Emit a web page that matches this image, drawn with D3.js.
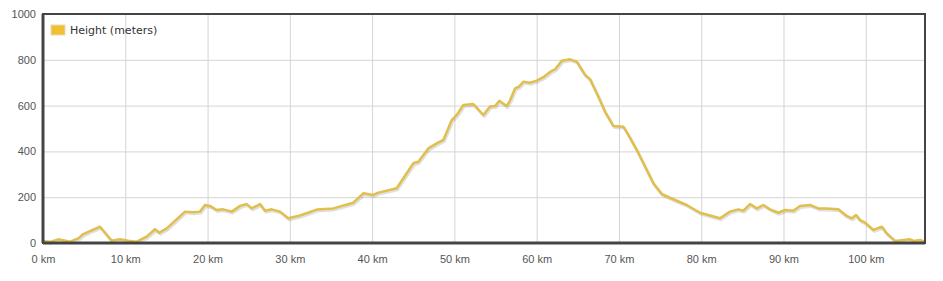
<!DOCTYPE html>
<html>
<head>
<meta charset="utf-8">
<script src="https://cdn.jsdelivr.net/npm/d3@7"></script>
<style>
  body { margin: 0; background: #fff; }
  svg { display: block; font-family: "DejaVu Sans", Verdana, sans-serif; }
  .tick text { fill: #555; font-size: 11px; }
</style>
</head>
<body>
<div id="chart"></div>
<script>
"use strict";

// distance along the route (km) and height (m)
const distanceKm = [
  0, 0.85, 1.86, 3.28, 4.29, 4.9, 5.51, 6.93, 8.35, 9.36, 10.37, 11.39,
  12.6, 13.61, 14.14, 15.04, 17.26, 18.27, 19.08, 19.69, 20.3, 21.11,
  21.92, 22.94, 23.95, 24.76, 25.37, 26.38, 26.98, 27.8, 28.81, 29.82,
  31.24, 33.27, 35.29, 37.72, 38.93, 40.15, 40.76, 42.99, 45.01, 45.62,
  46.83, 47.85, 48.66, 49.68, 50.29, 51.09, 52.3, 53.52, 54.33, 54.94,
  55.46, 56.34, 56.76, 57.37, 57.86, 58.38, 59.2, 60.01, 60.81, 61.83,
  62.23, 63.05, 64.06, 64.87, 65.88, 66.49, 67.5, 68.31, 69.32, 70.54,
  71.15, 72.17, 73.18, 74.18, 75.2, 76.61, 78.24, 79.86, 82.29, 83.5,
  84.51, 85.12, 85.94, 86.75, 87.55, 88.37, 89.38, 90.19, 91.2, 92.01,
  93.23, 94.24, 95.26, 96.67, 97.69, 98.3, 98.82, 99.31, 99.92, 100.92,
  101.95, 102.55, 103.56, 105.39, 105.8, 106.62, 107.09
];
const heightM = [
  8, 5, 16, 6, 20, 39, 49, 71, 10, 16, 10, 6,
  28, 60, 45, 64, 137, 134, 137, 166, 162, 144,
  147, 137, 162, 170, 151, 170, 141, 147, 137, 108,
  120, 146, 151, 176, 217, 210, 220, 239, 348, 355,
  413, 435, 450, 537, 559, 603, 607, 559, 596, 598,
  621, 598, 622, 675, 683, 704, 700, 709, 724, 752,
  758, 796, 802, 792, 734, 715, 639, 573, 511, 508,
  472, 406, 333, 261, 214, 191, 166, 132, 108, 137,
  147, 141, 170, 151, 166, 147, 132, 144, 141, 162,
  166, 151, 151, 147, 118, 108, 122, 100, 89, 57,
  71, 42, 9, 16, 9, 13, 6
];
const yTicks = [0, 200, 400, 600, 800, 1000];
const xTicks = [0, 10, 20, 30, 40, 50, 60, 70, 80, 90, 100];
const seriesName = "Height (meters)";

const W = 943, H = 281;
const margin = { top: 14, right: 18, bottom: 38, left: 43 };
const width = W - margin.left - margin.right,
  height = H - margin.top - margin.bottom;

const data = distanceKm.map((d, i) => ({ km: d, h: heightM[i] }));

const x = d3.scaleLinear().domain([0, 107.2]).range([0, width]);
const y = d3.scaleLinear().domain([0, 1000]).range([height, 0]);

const svg = d3
  .select("#chart")
  .append("svg")
  .attr("width", W)
  .attr("height", H);

const g = svg
  .append("g")
  .attr("transform", "translate(" + margin.left + "," + margin.top + ")");

// grid
g.append("g")
  .call(d3.axisLeft(y).tickValues(yTicks).tickSize(-width).tickFormat(""))
  .call((s) => s.select(".domain").remove())
  .call((s) => s.selectAll("line").attr("stroke", "#d4d4d4"));
g.append("g")
  .attr("transform", "translate(0," + height + ")")
  .call(d3.axisBottom(x).tickValues(xTicks).tickSize(-height).tickFormat(""))
  .call((s) => s.select(".domain").remove())
  .call((s) => s.selectAll("line").attr("stroke", "#d4d4d4"));

// tick labels
g.append("g")
  .call(
    d3.axisLeft(y).tickValues(yTicks).tickSize(0).tickPadding(7)
      .tickFormat(d3.format("d"))
  )
  .call((s) => s.select(".domain").remove());
g.append("g")
  .attr("transform", "translate(0," + height + ")")
  .call(
    d3.axisBottom(x).tickValues(xTicks).tickSize(0).tickPadding(12)
      .tickFormat((d) => d + " km")
  )
  .call((s) => s.select(".domain").remove());

const line = d3
  .line()
  .x((d) => x(d.km))
  .y((d) => y(d.h));

// soft shadow under the line
g.append("path")
  .datum(data)
  .attr("fill", "none")
  .attr("stroke", "rgba(0,0,0,0.12)")
  .attr("stroke-width", 3)
  .attr("stroke-linejoin", "round")
  .attr("transform", "translate(1,1.5)")
  .attr("d", line);

g.append("path")
  .datum(data)
  .attr("fill", "none")
  .attr("stroke", "#e0bf4c")
  .attr("stroke-width", 2.5)
  .attr("stroke-linejoin", "round")
  .attr("d", line);

// frame
g.append("rect")
  .attr("x", 0)
  .attr("y", 0)
  .attr("width", width)
  .attr("height", height)
  .attr("fill", "none")
  .attr("stroke", "#444")
  .attr("stroke-width", 2);
g.append("line")
  .attr("x1", 0).attr("x2", 0).attr("y1", 0).attr("y2", height)
  .attr("stroke", "#444").attr("stroke-width", 3);
g.append("line")
  .attr("x1", 0).attr("x2", width).attr("y1", height).attr("y2", height)
  .attr("stroke", "#444").attr("stroke-width", 3);

// legend
const legend = g.append("g").attr("transform", "translate(8,11)");
legend
  .append("rect")
  .attr("width", 14)
  .attr("height", 10)
  .attr("fill", "#f0c030")
  .attr("stroke", "#e6dcb8")
  .attr("stroke-width", 1);
legend
  .append("text")
  .attr("x", 19)
  .attr("y", 9)
  .attr("fill", "#333")
  .style("font-size", "11px")
  .text(seriesName);
</script>
</body>
</html>
